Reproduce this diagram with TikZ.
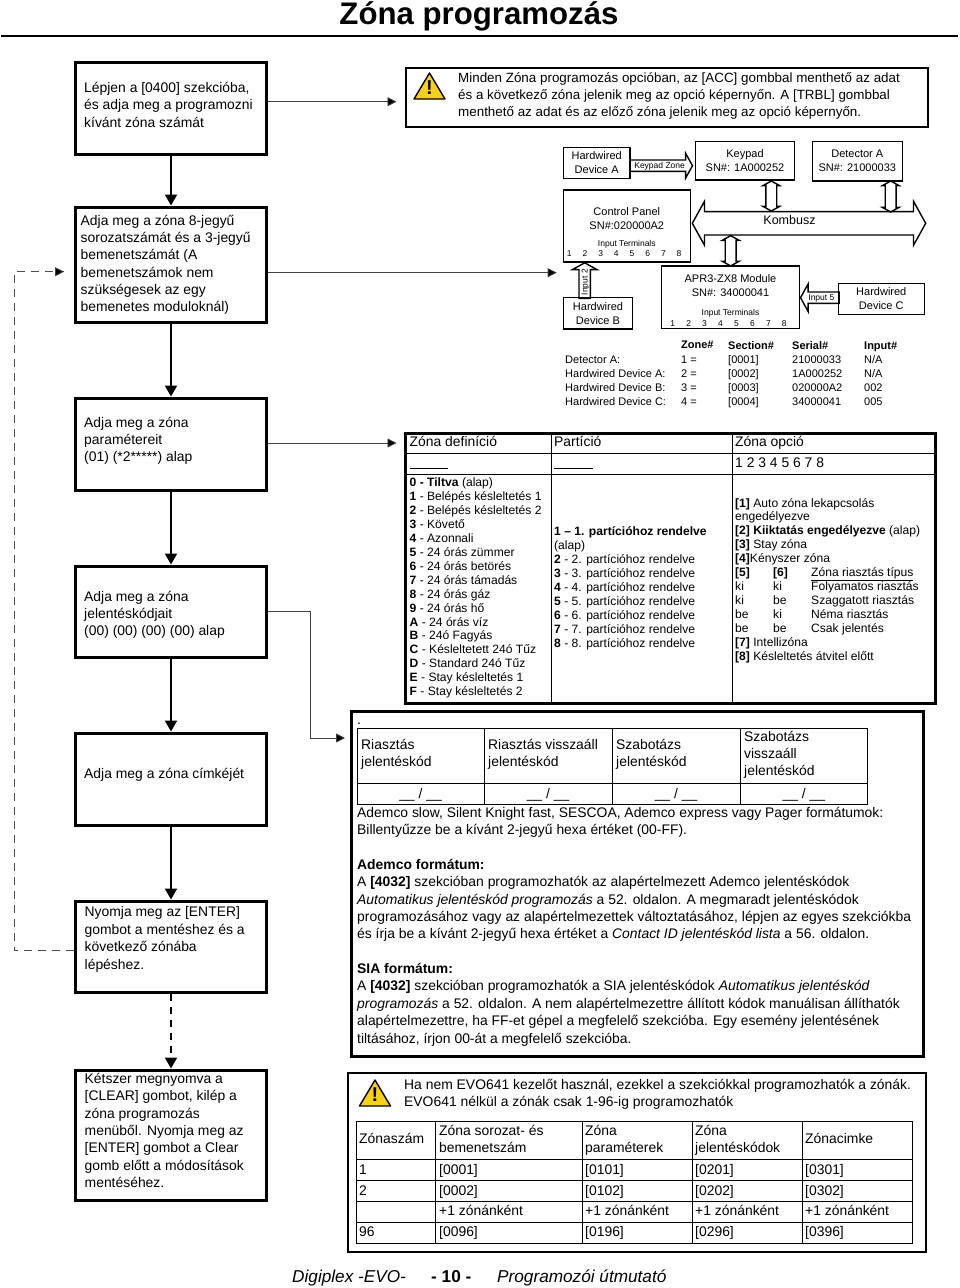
\documentclass[tikz,border=0pt]{standalone}
\usepackage{fontspec}
\setmainfont{Liberation Sans}
\usetikzlibrary{arrows.meta,shapes.arrows}
\definecolor{warnyellow}{HTML}{F7D117}
\newcommand{\bodyfont}{\fontsize{13.9}{17.35}\selectfont}
\newcommand{\tablefont}{\fontsize{12.1}{13.95}\selectfont}
\newcommand{\devfont}{\fontsize{11}{13.9}\selectfont}
\newcommand{\tinyfont}{\fontsize{8.5}{11}\selectfont}
\tikzset{%
  stepbox/.style={rectangle,draw=black,line width=3pt,minimum width=191,inner sep=0},
  steptext/.style={anchor=base west,align=left,inner sep=0,font=\bodyfont},
  framebox/.style={rectangle,draw=black,line width=2pt,inner sep=0},
  devbox/.style={rectangle,draw=black,line width=1.4pt,inner sep=0,align=center,font=\devfont},
  tablecell/.style={anchor=base west,align=left,inner sep=0,font=\tablefont},
  listcell/.style={anchor=base west,align=left,inner sep=0,font=\devfont},
  termnum/.style={inner sep=0,font=\tinyfont},
  flow/.style={line width=2pt,-{Triangle[width=12pt,length=11pt]}},
  flowdash/.style={flow,dash pattern=on 7pt off 6pt},
  thinflow/.style={line width=.8pt,draw=black!75,-{Triangle[width=9pt,length=9pt,fill=black]}},
  loopline/.style={line width=.8pt,draw=black!70,dash pattern=on 8pt off 6pt},
  blockarrow/.style={single arrow,draw=black,line width=1.4pt,inner sep=0,single arrow tip angle=122,
    font=\tinyfont,single arrow head extend=6.7pt,text height=8,text depth=2},
  busarrow/.style={double arrow,draw=black,line width=1.4pt,inner sep=0,double arrow tip angle=122,
    double arrow head extend=3pt,text height=5.5,text depth=4},
  warnsign/.pic={
    \draw[draw=black,fill=warnyellow,line width=1.4pt,line join=round] (15.5,0) -- (31,26) -- (0,26) -- cycle;
    \node (mark) [inner sep=0,font=\fontsize{20}{20}\bfseries\selectfont] at (15.5,15) {!};
  }%
}
\begin{document}
\begin{tikzpicture}[x=1pt,y=-1pt]
  \useasboundingbox (0,0) rectangle (960,1288);

  % title and footer
  \node (title) [inner sep=0,anchor=base,font=\fontsize{31.2}{33}\bfseries\selectfont] at (479,24) {Zóna programozás};
  \draw[line width=1.6pt] (1,36) -- (958,36);
  \node (footer_a) [inner sep=0,anchor=base west,font=\fontsize{17.2}{17}\itshape\selectfont] at (292,1282) {Digiplex -EVO-};
  \node (footer_b) [inner sep=0,anchor=base west,font=\fontsize{17.2}{17}\bfseries\selectfont] at (431,1282) {- 10 -};
  \node (footer_c) [inner sep=0,anchor=base west,font=\fontsize{17.2}{17}\itshape\selectfont] at (497,1282) {Programozói útmutató};

  % steps on the left
  \node (step_a) [stepbox,minimum height=92] at (171,108) {};
  \node (step_b) [stepbox,minimum height=115.5] at (171,264.75) {};
  \node (step_c) [stepbox,minimum height=92] at (171,444) {};
  \node (step_d) [stepbox,minimum height=91] at (171,611.5) {};
  \node (step_e) [stepbox,minimum height=92] at (171,779) {};
  \node (step_f) [stepbox,minimum height=91] at (171,946.5) {};
  \node (step_g) [stepbox,minimum height=130] at (171,1135) {};

  \node (text_a) [steptext] at (84,127.2) {Lépjen a [0400] szekcióba,\\és adja meg a programozni\\kívánt zóna számát};
  \node (text_b) [steptext] at (80.5,311.75) {Adja meg a zóna 8-jegyű\\sorozatszámát és a 3-jegyű\\bemenetszámát (A\\bemenetszámok nem\\szükségesek az egy\\bemenetes moduloknál)};
  \node (text_c) [steptext] at (84,461.7) {Adja meg a zóna\\paramétereit\\(01) (*2*****) alap};
  \node (text_d) [steptext] at (84,635.7) {Adja meg a zóna\\jelentéskódjait\\(00) (00) (00) (00) alap};
  \node (text_e) [steptext] at (84,778) {Adja meg a zóna címkéjét};
  \node (text_f) [steptext] at (84.5,969) {Nyomja meg az [ENTER]\\gombot a mentéshez és a\\következő zónába\\lépéshez.};
  \node (text_g) [steptext] at (84.5,1187.6) {Kétszer megnyomva a\\{[CLEAR]} gombot, kilép a\\zóna programozás\\menüből. Nyomja meg az\\{[ENTER]} gombot a Clear\\gomb előtt a módosítások\\mentéséhez.};

  \path (step_a) edge[flow] (step_b)
        (step_b) edge[flow] (step_c)
        (step_c) edge[flow] (step_d)
        (step_d) edge[flow] (step_e)
        (step_e) edge[flow] (step_f)
        (step_f) edge[flowdash] (step_g);

  % dashed return to the serial number step
  \coordinate (loop_low) at (14,950.7);
  \coordinate (loop_top) at (14,271.7);
  \coordinate (loop_tip) at (64,271.7);
  \draw[loopline] (step_f.west |- loop_low) -- (loop_low) -- (loop_top) -- (loop_tip);
  \draw[thinflow] (56,271.7) -- (loop_tip);

  % warning on top
  \node (warn_top) [framebox,minimum width=522,minimum height=59] at (666.8,97) {};
  \pic at (414,73) {warnsign};
  \node (warn_top_text) [steptext,font=\fontsize{13.4}{17.35}\selectfont] at (458,116.7) {Minden Zóna programozás opcióban, az [ACC] gombbal menthető az adat\\és a következő zóna jelenik meg az opció képernyőn. A [TRBL] gombbal\\menthető az adat és az előző zóna jelenik meg az opció képernyőn.};
  \coordinate (warn_in) at (396.5,101.7);
  \draw[thinflow] (step_a.east |- warn_in) -- (warn_in);

  % devices
  \node (hw_a) [devbox,minimum width=66.7,minimum height=31.4] at (596.7,163) {Hardwired\\Device A};
  \node (keypad) [devbox,minimum width=99.4,minimum height=38.7] at (745,160.7) {Keypad\\SN\#: 1A000252};
  \node (detector_a) [devbox,minimum width=90,minimum height=39.7] at (857.3,161.2) {Detector A\\SN\#: 21000033};
  \node (panel) [devbox,minimum width=127,minimum height=72] at (626.8,226) {};
  \node (panel_text) [inner sep=0,align=center,font=\devfont] at (626.8,218.7) {Control Panel\\SN\#:020000A2};
  \node (panel_terms) [termnum] at (626.8,244) {Input Terminals};
  \foreach \n in {1,...,8}
    \node (panel_t\n) [termnum] at ({569.3+(\n-1)*15.68},254) {\n};
  \node (hw_b) [devbox,minimum width=69.4,minimum height=31.3] at (598,313.3) {Hardwired\\Device B};
  \node (module) [devbox,minimum width=138.4,minimum height=62.3] at (730.5,297.2) {};
  \node (module_text) [inner sep=0,align=center,font=\devfont] at (730.5,285.5) {APR3-ZX8 Module\\SN\#: 34000041};
  \node (module_terms) [termnum] at (730.5,313) {Input Terminals};
  \foreach \n in {1,...,8}
    \node (module_t\n) [termnum] at ({672.7+(\n-1)*15.95},323.3) {\n};
  \node (hw_c) [devbox,minimum width=86,minimum height=31] at (881.3,298.8) {Hardwired\\Device C};

  % block arrows
  \node (keypad_zone) [blockarrow,anchor=tip,minimum height=62.6] at (693.3,165.7) {Keypad Zone};
  \node (input_two) [blockarrow,anchor=tip,rotate=90,minimum height=35.7] at (584.7,262) {Input 2};
  \node (input_five) [blockarrow,anchor=tip,shape border rotate=180,minimum height=38.6,single arrow head extend=8pt] at (799.7,297.7) {Input 5};
  \node (kombusz) [busarrow,minimum height=233.4,text height=14,text depth=8,double arrow head extend=10.3pt] at (809,223.3) {};
  \draw[draw=black!35,line width=1.2pt] (744,212.3) -- (876,212.3);
  \node (kombusz_text) [inner sep=0,font=\fontsize{12.5}{14}\selectfont] at (789.5,220) {Kombusz};
  \node (link_keypad) [busarrow,rotate=90,minimum height=30] at (771.3,196) {};
  \node (link_detector) [busarrow,rotate=90,minimum height=31] at (890.7,196.5) {};
  \node (link_module) [busarrow,rotate=90,minimum height=30.3] at (730.7,250.8) {};

  % zone list
  \node (list_names) [listcell] at (565,405.5) {Detector A:\\Hardwired Device A:\\Hardwired Device B:\\Hardwired Device C:};
  \node (list_zone) [listcell] at (681,405.5) {\textbf{Zone\#}\\[1pt]1 =\\2 =\\3 =\\4 =};
  \node (list_section) [listcell] at (728,405.5) {\textbf{Section\#}\\{[0001]}\\{[0002]}\\{[0003]}\\{[0004]}};
  \node (list_serial) [listcell] at (792,405.5) {\textbf{Serial\#}\\21000033\\1A000252\\020000A2\\34000041};
  \node (list_input) [listcell] at (864,405.5) {\textbf{Input\#}\\N/A\\N/A\\002\\005};
  \coordinate (list_in) at (556.7,272.7);
  \draw[thinflow] (step_b.east |- list_in) -- (list_in);

  % zone definition table
  \node (table_def) [framebox,line width=3pt,minimum width=530,minimum height=269.5] at (670,568.7) {};
  \draw[line width=.8pt] (405,453.7) -- (935,453.7);
  \draw[line width=.8pt] (405,474.7) -- (935,474.7);
  \draw[line width=.8pt] (551,434) -- (551,703.5);
  \draw[line width=.8pt] (732,434) -- (732,703.5);
  \node (def_head_a) [steptext] at (409.5,446) {Zóna definíció};
  \node (def_head_b) [steptext] at (554,446) {Partíció};
  \node (def_head_c) [steptext] at (735,446) {Zóna opció};
  \draw[line width=.8pt] (410,468.7) -- (448,468.7);
  \draw[line width=.8pt] (554,468.7) -- (593,468.7);
  \node (def_digits) [steptext] at (735,467) {1 2 3 4 5 6 7 8};
  \node (def_types) [tablecell] at (409.5,695.75) {\textbf{0 - Tiltva} (alap)\\\textbf{1} - Belépés késleltetés 1\\\textbf{2} - Belépés késleltetés 2\\\textbf{3} - Követő\\\textbf{4} - Azonnali\\\textbf{5} - 24 órás zümmer\\\textbf{6} - 24 órás betörés\\\textbf{7} - 24 órás támadás\\\textbf{8} - 24 órás gáz\\\textbf{9} - 24 órás hő\\\textbf{A} - 24 órás víz\\\textbf{B} - 24ó Fagyás\\\textbf{C} - Késleltetett 24ó Tűz\\\textbf{D} - Standard 24ó Tűz\\\textbf{E} - Stay késleltetés 1\\\textbf{F} - Stay késleltetés 2};
  \node (def_parts) [tablecell] at (554,647.1) {\textbf{1 – 1. partícióhoz rendelve}\\(alap)\\\textbf{2} - 2. partícióhoz rendelve\\\textbf{3} - 3. partícióhoz rendelve\\\textbf{4} - 4. partícióhoz rendelve\\\textbf{5} - 5. partícióhoz rendelve\\\textbf{6} - 6. partícióhoz rendelve\\\textbf{7} - 7. partícióhoz rendelve\\\textbf{8} - 8. partícióhoz rendelve};
  \node (def_opts) [tablecell] at (735,660.45) {\textbf{[1]} Auto zóna lekapcsolás\\engedélyezve\\\textbf{[2] Kiiktatás engedélyezve} (alap)\\\textbf{[3]} Stay zóna\\\textbf{[4]}Kényszer zóna\\\makebox[38pt][l]{\textbf{[5]}}\makebox[38pt][l]{\textbf{[6]}}\underline{Zóna riasztás típus}\\\makebox[38pt][l]{ki}\makebox[38pt][l]{ki}Folyamatos riasztás\\\makebox[38pt][l]{ki}\makebox[38pt][l]{be}Szaggatott riasztás\\\makebox[38pt][l]{be}\makebox[38pt][l]{ki}Néma riasztás\\\makebox[38pt][l]{be}\makebox[38pt][l]{be}Csak jelentés\\\textbf{[7]} Intellizóna\\\textbf{[8]} Késleltetés átvitel előtt};
  \coordinate (def_in) at (396.5,443);
  \draw[thinflow] (step_c.east |- def_in) -- (def_in);

  % report code box
  \node (report) [framebox,line width=3pt,minimum width=572,minimum height=345] at (637.5,884) {};
  \node (report_dot) [steptext] at (357,724) {.};
  \draw[line width=.8pt] (357,728) rectangle (867.6,804);
  \draw[line width=.8pt] (357,783) -- (867.6,783);
  \foreach \x in {484,612,740}
    \draw[line width=.8pt] (\x,728) -- (\x,804);
  \node (code_a) [steptext] at (361,766.35) {Riasztás\\jelentéskód};
  \node (code_b) [steptext] at (488,766.35) {Riasztás visszaáll\\jelentéskód};
  \node (code_c) [steptext] at (616,766.35) {Szabotázs\\jelentéskód};
  \node (code_d) [steptext] at (744,775.7) {Szabotázs\\visszaáll\\jelentéskód};
  \foreach \x/\m in {420.5/a,548/b,676/c,803.8/d}
    \node (blank_\m) [steptext,anchor=base] at (\x,798) {\_\_ / \_\_};
  \node (report_text) [steptext] at (357,1043) {Ademco slow, Silent Knight fast, SESCOA, Ademco express vagy Pager formátumok:\\Billentyűzze be a kívánt 2-jegyű hexa értéket (00-FF).\\[17.35pt]\textbf{Ademco formátum:}\\A \textbf{[4032]} szekcióban programozhatók az alapértelmezett Ademco jelentéskódok\\\emph{Automatikus jelentéskód programozás} a 52. oldalon. A megmaradt jelentéskódok\\programozásához vagy az alapértelmezettek változtatásához, lépjen az egyes szekciókba\\és írja be a kívánt 2-jegyű hexa értéket a \emph{Contact ID jelentéskód lista} a 56. oldalon.\\[17.35pt]\textbf{SIA formátum:}\\A \textbf{[4032]} szekcióban programozhatók a SIA jelentéskódok \emph{Automatikus jelentéskód}\\\emph{programozás} a 52. oldalon. A nem alapértelmezettre állított kódok manuálisan állíthatók\\alapértelmezettre, ha FF-et gépel a megfelelő szekcióba. Egy esemény jelentésének\\tiltásához, írjon 00-át a megfelelő szekcióba.};
  \coordinate (report_bend) at (310,738);
  \coordinate (report_in) at (345,738);
  \draw[thinflow] (step_d.east) -- (step_d.east -| report_bend) -- (report_bend) -- (report_in);

  % section table at the bottom
  \node (warn_low) [framebox,minimum width=577.6,minimum height=179.3] at (637.2,1162.4) {};
  \pic at (359.5,1080) {warnsign};
  \node (warn_low_text) [steptext] at (404,1106.35) {Ha nem EVO641 kezelőt használ, ezekkel a szekciókkal programozhatók a zónák.\\EVO641 nélkül a zónák csak 1-96-ig programozhatók};
  \draw[line width=.8pt] (356,1121) rectangle (912,1243);
  \foreach \y in {1159,1180,1201,1222}
    \draw[line width=.8pt] (356,\y) -- (912,\y);
  \foreach \x in {435.5,582,692,802}
    \draw[line width=.8pt] (\x,1121) -- (\x,1243);
  \node (sec_head_a) [steptext] at (359,1143) {Zónaszám};
  \node (sec_head_b) [steptext] at (439,1152.35) {Zóna sorozat- és\\bemenetszám};
  \node (sec_head_c) [steptext] at (585,1152.35) {Zóna\\paraméterek};
  \node (sec_head_d) [steptext] at (695,1152.35) {Zóna\\jelentéskódok};
  \node (sec_head_e) [steptext] at (805,1143) {Zónacimke};
  \foreach \y/\m/\a/\b/\c/\d/\e in {1174/r1/1/{[0001]}/{[0101]}/{[0201]}/{[0301]},1195/r2/2/{[0002]}/{[0102]}/{[0202]}/{[0302]},1236.5/r4/96/{[0096]}/{[0196]}/{[0296]}/{[0396]}} {
    \node (sec_\m_a) [steptext] at (359,\y) {\a};
    \node (sec_\m_b) [steptext] at (439,\y) {\b};
    \node (sec_\m_c) [steptext] at (585,\y) {\c};
    \node (sec_\m_d) [steptext] at (695,\y) {\d};
    \node (sec_\m_e) [steptext] at (805,\y) {\e};
  }
  \foreach \x/\m in {439/b,585/c,695/d,805/e}
    \node (sec_r3_\m) [steptext] at (\x,1215) {+1 zónánként};
\end{tikzpicture}
\end{document}
